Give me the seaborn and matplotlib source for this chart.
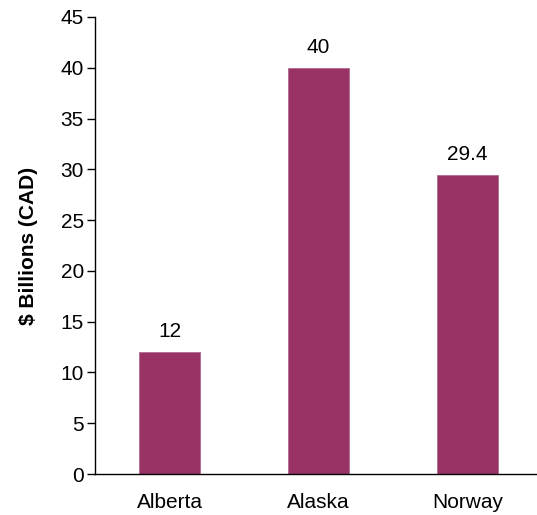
import matplotlib
matplotlib.use("Agg")
import matplotlib.pyplot as plt
import seaborn as sns
import pandas as pd

categories = ["Alberta", "Alaska", "Norway"]
values = [12, 40, 29.4]
value_labels = ["12", "40", "29.4"]
yticks = [0, 5, 10, 15, 20, 25, 30, 35, 40, 45]

sns.set_theme(style="white")
plt.rcParams['font.family'] = ['Liberation Sans', 'DejaVu Sans']

df = pd.DataFrame({"region": categories, "value": values})

fig = plt.figure(figsize=(5.37, 5.15), dpi=100)
ax = fig.add_axes([95/537, 41/515, 447/537, 457/515])
sns.barplot(data=df, x="region", y="value", color="#993366", saturation=1,
            width=0.41, edgecolor="#b06a8f", linewidth=0.6, ax=ax)

for i, (v, lab) in enumerate(zip(values, value_labels)):
    ax.annotate(lab, (i, v), xytext=(0, 8), textcoords="offset points",
                ha="center", va="bottom", fontsize=15, color="black")

ax.set_ylim(0, 45)
ax.set_xlim(-0.5, 2.5)
ax.set_yticks(yticks)
ax.set_yticklabels([str(t) for t in yticks], fontsize=15, color="black")
ax.tick_params(axis="y", direction="out", length=6, width=1, color="black", pad=2, left=True)
ax.tick_params(axis="x", length=0, labelsize=15, labelcolor="black", pad=14)
ax.set_xlabel("")
ax.set_ylabel("$ Billions (CAD)", fontsize=15, fontweight="bold", color="black", labelpad=16)
for s in ["top", "right"]:
    ax.spines[s].set_visible(False)
for s in ["left", "bottom"]:
    ax.spines[s].set_color("black")
    ax.spines[s].set_linewidth(1)

fig.savefig("out.png", dpi=100)
